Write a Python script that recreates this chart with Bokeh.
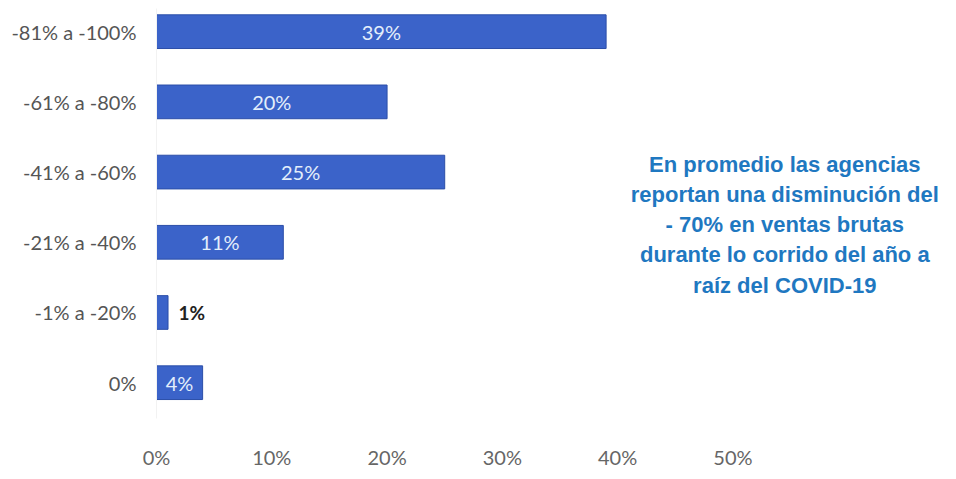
from bokeh.plotting import figure
from bokeh.models import FixedTicker, Label, ColumnDataSource, NumeralTickFormatter
from bokeh.core.properties import value
from bokeh.embed import file_html
from bokeh.resources import INLINE

categories = ["0%", "-1% a -20%", "-21% a -40%", "-41% a -60%", "-61% a -80%", "-81% a -100%"]
shares = [0.04, 0.01, 0.11, 0.25, 0.20, 0.39]
bar_labels = ["4%", "1%", "11%", "25%", "20%", "39%"]
x_ticks = [0.0, 0.1, 0.2, 0.3, 0.4, 0.5]
note_lines = [
    "En promedio las agencias",
    "reportan una disminución del",
    "- 70% en ventas brutas",
    "durante lo corrido del año a",
    "raíz del COVID-19",
]

ypos = list(range(len(categories)))

p = figure(width=948, height=471, output_backend="svg", toolbar_location=None,
           x_range=(0, 0.687), y_range=(-0.51, 5.33),
           min_border_left=156, min_border_right=0, min_border_top=8, min_border_bottom=40)
p.outline_line_color = None
p.xgrid.visible = False
p.ygrid.visible = False
p.background_fill_color = "white"

src = ColumnDataSource(dict(y=ypos, right=shares, lab=bar_labels))
p.hbar(y="y", right="right", left=0, height=0.48, source=src,
       fill_color="#3b63c9", line_color="#2b4ea8", line_width=1)

inside = [i for i in ypos if shares[i] >= 0.03]
outside = [i for i in ypos if shares[i] < 0.03]
p.text(x=[shares[i] / 2 for i in inside], y=[ypos[i] for i in inside],
       text=[bar_labels[i] for i in inside], text_align="center", text_baseline="middle",
       text_font=value("Lato"), text_font_size="20px", text_color="#e3eefb")
p.text(x=[shares[i] + 0.009 for i in outside], y=[ypos[i] for i in outside],
       text=[bar_labels[i] for i in outside], text_align="left", text_baseline="middle",
       text_font=value("Lato"), text_font_style="bold", text_font_size="19px", text_color="#222222")

p.yaxis.ticker = FixedTicker(ticks=ypos)
p.yaxis.major_label_overrides = {i: c for i, c in zip(ypos, categories)}
p.yaxis.major_tick_line_color = None
p.yaxis.minor_tick_line_color = None
p.yaxis.axis_line_color = "#f2f2f2"
p.yaxis.major_label_standoff = 14
p.yaxis.major_label_text_font = "Lato"
p.yaxis.major_label_text_font_size = "20px"
p.yaxis.major_label_text_color = "#555555"

p.xaxis.ticker = FixedTicker(ticks=x_ticks)
p.xaxis.formatter = NumeralTickFormatter(format="0%")
p.xaxis.major_tick_line_color = None
p.xaxis.minor_tick_line_color = None
p.xaxis.axis_line_color = None
p.xaxis.major_label_standoff = 20
p.xaxis.major_label_text_font = "Lato"
p.xaxis.major_label_text_font_size = "20px"
p.xaxis.major_label_text_color = "#666666"

note_x = 0.545
note_top = 3.11
note_step = 0.43
for k, line in enumerate(note_lines):
    p.add_layout(Label(x=note_x, y=note_top - k * note_step, text=line,
                       text_align="center", text_baseline="middle",
                       text_font="Liberation Sans", text_font_style="bold",
                       text_font_size="22px", text_color="#1f78c1"))

open("out.html", "w").write(file_html(p, INLINE))
